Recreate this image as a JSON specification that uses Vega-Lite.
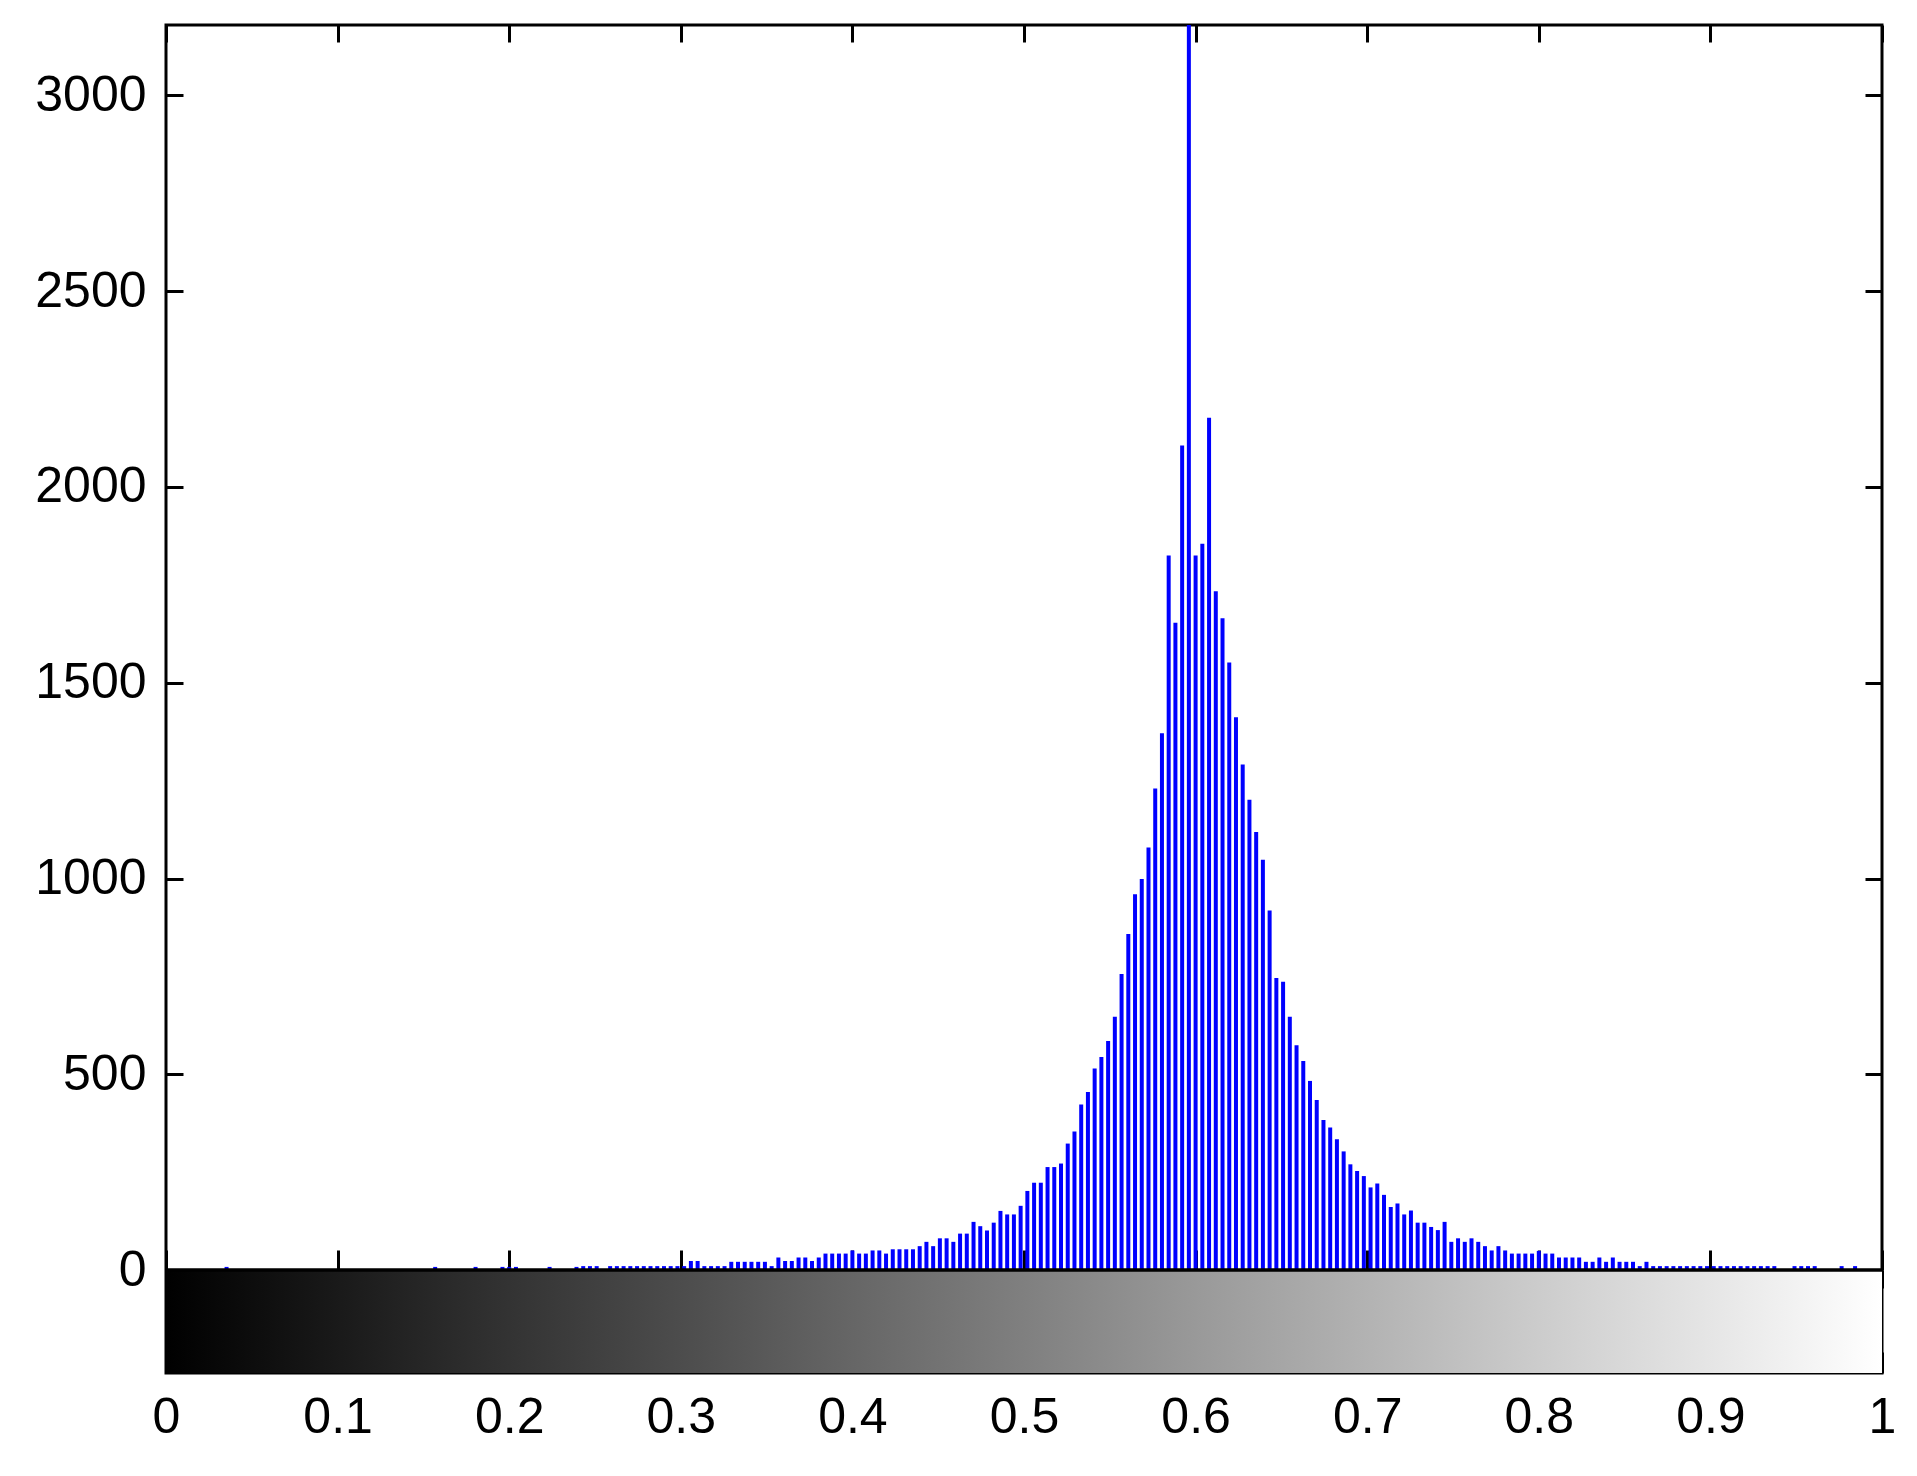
{
  "$schema": "https://vega.github.io/schema/vega-lite/v6.json",
  "autosize": {"type": "none"},
  "padding": {"left": 166, "top": 25, "right": 35, "bottom": 103},
  "width": 1716,
  "height": 1348,
  "background": "white",
  "config": {
    "view": {"stroke": "black", "strokeWidth": 3},
    "axis": {
      "domain": false,
      "grid": false,
      "tickColor": "black",
      "tickWidth": 3,
      "labelFont": "Liberation Sans",
      "labelFontSize": 50,
      "labelColor": "black",
      "title": null
    }
  },
  "datasets": {
    "hist": [
      {"level": 9, "count": 8}, {"level": 40, "count": 8}, {"level": 46, "count": 8},
      {"level": 50, "count": 8}, {"level": 51, "count": 8}, {"level": 52, "count": 8},
      {"level": 57, "count": 8}, {"level": 61, "count": 8}, {"level": 62, "count": 10},
      {"level": 63, "count": 10}, {"level": 64, "count": 10}, {"level": 66, "count": 10},
      {"level": 67, "count": 10}, {"level": 68, "count": 10}, {"level": 69, "count": 10},
      {"level": 70, "count": 10}, {"level": 71, "count": 10}, {"level": 72, "count": 10},
      {"level": 73, "count": 10}, {"level": 74, "count": 10}, {"level": 75, "count": 10},
      {"level": 76, "count": 10}, {"level": 77, "count": 10}, {"level": 78, "count": 23},
      {"level": 79, "count": 23}, {"level": 80, "count": 10}, {"level": 81, "count": 10},
      {"level": 82, "count": 10}, {"level": 83, "count": 10}, {"level": 84, "count": 21},
      {"level": 85, "count": 21}, {"level": 86, "count": 21}, {"level": 87, "count": 21},
      {"level": 88, "count": 21}, {"level": 89, "count": 21}, {"level": 90, "count": 10},
      {"level": 91, "count": 32}, {"level": 92, "count": 23}, {"level": 93, "count": 23},
      {"level": 94, "count": 32}, {"level": 95, "count": 32}, {"level": 96, "count": 23},
      {"level": 97, "count": 32}, {"level": 98, "count": 42}, {"level": 99, "count": 42},
      {"level": 100, "count": 42}, {"level": 101, "count": 42}, {"level": 102, "count": 50},
      {"level": 103, "count": 42}, {"level": 104, "count": 42}, {"level": 105, "count": 50},
      {"level": 106, "count": 50}, {"level": 107, "count": 42}, {"level": 108, "count": 53},
      {"level": 109, "count": 53}, {"level": 110, "count": 53}, {"level": 111, "count": 53},
      {"level": 112, "count": 61}, {"level": 113, "count": 72}, {"level": 114, "count": 61},
      {"level": 115, "count": 81}, {"level": 116, "count": 81}, {"level": 117, "count": 72},
      {"level": 118, "count": 93}, {"level": 119, "count": 93}, {"level": 120, "count": 123},
      {"level": 121, "count": 112}, {"level": 122, "count": 101}, {"level": 123, "count": 121},
      {"level": 124, "count": 151}, {"level": 125, "count": 142}, {"level": 126, "count": 142},
      {"level": 127, "count": 164}, {"level": 128, "count": 202}, {"level": 129, "count": 223},
      {"level": 130, "count": 223}, {"level": 131, "count": 263}, {"level": 132, "count": 263},
      {"level": 133, "count": 272}, {"level": 134, "count": 323}, {"level": 135, "count": 354},
      {"level": 136, "count": 423}, {"level": 137, "count": 455}, {"level": 138, "count": 515},
      {"level": 139, "count": 544}, {"level": 140, "count": 585}, {"level": 141, "count": 647},
      {"level": 142, "count": 756}, {"level": 143, "count": 858}, {"level": 144, "count": 960},
      {"level": 145, "count": 999}, {"level": 146, "count": 1079}, {"level": 147, "count": 1230},
      {"level": 148, "count": 1371}, {"level": 149, "count": 1825}, {"level": 150, "count": 1653},
      {"level": 151, "count": 2106}, {"level": 152, "count": 3180}, {"level": 153, "count": 1825},
      {"level": 154, "count": 1855}, {"level": 155, "count": 2177}, {"level": 156, "count": 1734},
      {"level": 157, "count": 1665}, {"level": 158, "count": 1552}, {"level": 159, "count": 1412},
      {"level": 160, "count": 1291}, {"level": 161, "count": 1201}, {"level": 162, "count": 1119},
      {"level": 163, "count": 1048}, {"level": 164, "count": 918}, {"level": 165, "count": 746},
      {"level": 166, "count": 736}, {"level": 167, "count": 647}, {"level": 168, "count": 574},
      {"level": 169, "count": 534}, {"level": 170, "count": 483}, {"level": 171, "count": 434},
      {"level": 172, "count": 383}, {"level": 173, "count": 364}, {"level": 174, "count": 334},
      {"level": 175, "count": 303}, {"level": 176, "count": 270}, {"level": 177, "count": 253},
      {"level": 178, "count": 240}, {"level": 179, "count": 211}, {"level": 180, "count": 221},
      {"level": 181, "count": 192}, {"level": 182, "count": 161}, {"level": 183, "count": 170},
      {"level": 184, "count": 142}, {"level": 185, "count": 152}, {"level": 186, "count": 121},
      {"level": 187, "count": 121}, {"level": 188, "count": 110}, {"level": 189, "count": 102},
      {"level": 190, "count": 123}, {"level": 191, "count": 72}, {"level": 192, "count": 81},
      {"level": 193, "count": 72}, {"level": 194, "count": 81}, {"level": 195, "count": 72},
      {"level": 196, "count": 61}, {"level": 197, "count": 50}, {"level": 198, "count": 61},
      {"level": 199, "count": 50}, {"level": 200, "count": 42}, {"level": 201, "count": 42},
      {"level": 202, "count": 42}, {"level": 203, "count": 42}, {"level": 204, "count": 49},
      {"level": 205, "count": 42}, {"level": 206, "count": 42}, {"level": 207, "count": 32},
      {"level": 208, "count": 32}, {"level": 209, "count": 32}, {"level": 210, "count": 32},
      {"level": 211, "count": 21}, {"level": 212, "count": 21}, {"level": 213, "count": 32},
      {"level": 214, "count": 21}, {"level": 215, "count": 32}, {"level": 216, "count": 21},
      {"level": 217, "count": 21}, {"level": 218, "count": 21}, {"level": 219, "count": 10},
      {"level": 220, "count": 21}, {"level": 221, "count": 10}, {"level": 222, "count": 10},
      {"level": 223, "count": 10}, {"level": 224, "count": 10}, {"level": 225, "count": 10},
      {"level": 226, "count": 10}, {"level": 227, "count": 10}, {"level": 228, "count": 10},
      {"level": 229, "count": 10}, {"level": 230, "count": 10}, {"level": 231, "count": 10},
      {"level": 232, "count": 10}, {"level": 233, "count": 10}, {"level": 234, "count": 10},
      {"level": 235, "count": 10}, {"level": 236, "count": 10}, {"level": 237, "count": 10},
      {"level": 238, "count": 10}, {"level": 239, "count": 10}, {"level": 242, "count": 10},
      {"level": 243, "count": 10}, {"level": 244, "count": 10}, {"level": 245, "count": 10},
      {"level": 249, "count": 10}, {"level": 251, "count": 10}
    ]
  },
  "layer": [
    {
      "data": {"values": [{}]},
      "mark": {
        "type": "rect",
        "fill": {
          "gradient": "linear",
          "x1": 0, "y1": 0, "x2": 1, "y2": 0,
          "stops": [{"offset": 0, "color": "#000000"}, {"offset": 1, "color": "#ffffff"}]
        },
        "strokeWidth": 0
      },
      "encoding": {
        "x": {
          "datum": 0,
          "type": "quantitative",
          "scale": {"domain": [0, 255], "nice": false, "zero": false},
          "axis": {
            "orient": "bottom",
            "values": [0, 25.5, 51, 76.5, 102, 127.5, 153, 178.5, 204, 229.5, 255],
            "tickSize": -21,
            "labelPadding": 40,
            "labelBaseline": "top",
            "labelFlush": false,
            "labelOverlap": false,
            "labelExpr": "format(datum.value / 255, '~g')"
          }
        },
        "x2": {"datum": 255},
        "y": {
          "datum": -263,
          "type": "quantitative",
          "scale": {"domain": [-263, 3180], "nice": false, "zero": false},
          "axis": {
            "orient": "left",
            "values": [0, 500, 1000, 1500, 2000, 2500, 3000],
            "tickSize": -17,
            "labelPadding": 37,
            "format": "d",
            "labelFlush": false,
            "labelOverlap": false
          }
        },
        "y2": {"datum": 0}
      }
    },
    {
      "data": {"name": "hist"},
      "mark": {"type": "rule", "color": "#0000ff", "strokeWidth": 4, "strokeCap": "butt"},
      "encoding": {
        "x": {
          "field": "level",
          "type": "quantitative",
          "axis": {
            "orient": "top",
            "values": [0, 25.5, 51, 76.5, 102, 127.5, 153, 178.5, 204, 229.5, 255],
            "tickSize": -17,
            "labels": false
          }
        },
        "y": {
          "field": "count",
          "type": "quantitative",
          "axis": {
            "orient": "right",
            "values": [-131.5, 0, 500, 1000, 1500, 2000, 2500, 3000],
            "tickSize": -17,
            "labels": false
          }
        },
        "y2": {"datum": 0}
      }
    },
    {
      "data": {"values": [{}]},
      "mark": {"type": "rule", "color": "black", "strokeWidth": 3},
      "encoding": {
        "x": {
          "datum": 0,
          "type": "quantitative",
          "axis": {
            "orient": "top",
            "offset": -1245,
            "values": [0, 25.5, 51, 76.5, 102, 127.5, 153, 178.5, 204, 229.5, 255],
            "tickSize": 20,
            "labels": false
          }
        },
        "x2": {"datum": 255},
        "y": {"datum": 0, "type": "quantitative", "axis": null}
      }
    },
    {
      "data": {"values": [{}]},
      "mark": {"type": "rule", "color": "black", "strokeWidth": 3},
      "encoding": {
        "x": {
          "datum": 0,
          "type": "quantitative",
          "axis": {
            "orient": "bottom",
            "offset": -103,
            "values": [0, 25.5, 51, 76.5, 102, 127.5, 153, 178.5, 204, 229.5, 255],
            "tickSize": 18,
            "labels": false
          }
        },
        "x2": {"datum": 255},
        "y": {"datum": 0, "type": "quantitative", "axis": null}
      }
    }
  ],
  "resolve": {"axis": {"x": "independent", "y": "independent"}}
}
